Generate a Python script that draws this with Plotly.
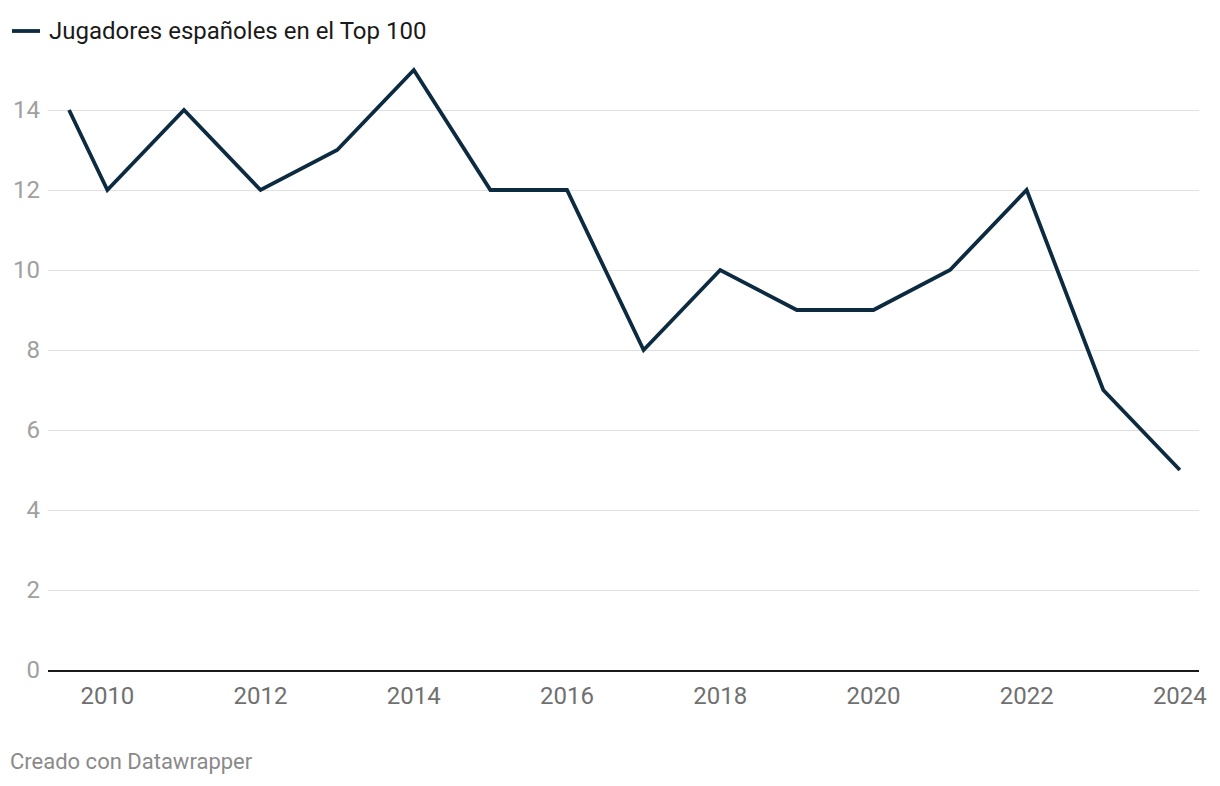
import plotly.graph_objects as go

years = [2009.5, 2010, 2011, 2012, 2013, 2014, 2015, 2016, 2017, 2018, 2019, 2020, 2021, 2022, 2023, 2024]
players = [14, 12, 14, 12, 13, 15, 12, 12, 8, 10, 9, 9, 10, 12, 7, 5]
series_name = "Jugadores españoles en el Top 100"
x_ticks = [2010, 2012, 2014, 2016, 2018, 2020, 2022, 2024]
y_ticks = [0, 2, 4, 6, 8, 10, 12, 14]

LINE = "#0d2b40"
FONT = "Roboto"
W, H = 1220, 786
ML, MR, MT, MB = 48, 21, 60, 116
PW, PH = W - ML - MR, H - MT - MB

fig = go.Figure()
fig.add_trace(go.Scatter(
    x=years, y=players, mode="lines", name=series_name,
    line=dict(color=LINE, width=3.8), showlegend=False,
))

def px_x(p):
    return (p - ML) / PW

def px_y(p):
    return (H - MB - p) / PH

fig.update_layout(
    width=W, height=H,
    paper_bgcolor="white", plot_bgcolor="white",
    margin=dict(l=ML, r=MR, t=MT, b=MB, autoexpand=False),
    font=dict(family=FONT),
    showlegend=False,
    xaxis=dict(
        range=[2009.225, 2024.25], tickvals=x_ticks, ticktext=[str(v) for v in x_ticks],
        showgrid=False, zeroline=False, automargin=False,
        showline=True, linecolor="#1a1a1a", linewidth=2,
        ticks="", ticklabelstandoff=3,
        tickfont=dict(family=FONT, size=24, color="#707070"),
        fixedrange=True,
    ),
    yaxis=dict(
        range=[0, 15.25], tickvals=y_ticks, ticktext=[str(v) for v in y_ticks],
        showgrid=True, gridcolor="#e1e1e1", gridwidth=1, automargin=False,
        zeroline=False, showline=False, ticks="", ticklabelstandoff=7,
        tickfont=dict(family=FONT, size=24, color="#a0a0a0"),
        fixedrange=True,
    ),
    shapes=[dict(
        type="line", xref="paper", yref="paper",
        x0=px_x(12), x1=px_x(40), y0=px_y(31), y1=px_y(31),
        line=dict(color=LINE, width=3.8),
    )],
    annotations=[
        dict(
            text=series_name, xref="paper", yref="paper",
            x=px_x(47), y=px_y(31), xanchor="left", yanchor="middle",
            showarrow=False, font=dict(family=FONT, size=24, color="#1a1a1a"),
        ),
        dict(
            text="Creado con Datawrapper", xref="paper", yref="paper",
            x=px_x(8), y=px_y(762), xanchor="left", yanchor="middle",
            showarrow=False, font=dict(family=FONT, size=22, color="#8a8a8a"),
        ),
    ],
)

fig.write_html("out.html", config={"displayModeBar": False},
               post_script="document.body.style.margin='0';")
